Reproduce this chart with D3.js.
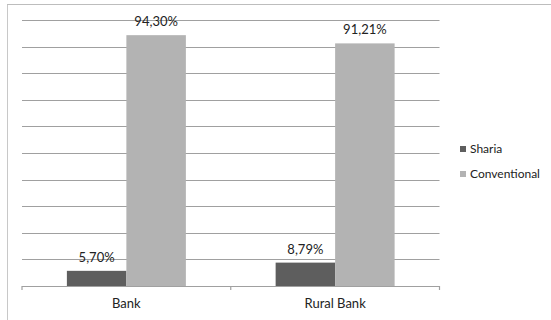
<!DOCTYPE html>
<html><head><meta charset="utf-8">
<script src="https://cdn.jsdelivr.net/npm/d3@7"></script>
<style>body{margin:0;background:#fff}svg{display:block}text{font-family:Lato,"Open Sans",sans-serif;fill:#222}</style>
</head><body><svg id="c" width="551" height="320"></svg>
<script>
const categories = ["Bank", "Rural Bank"];
const seriesNames = ["Sharia", "Conventional"];
const sharia = [5.70, 8.79];
const conventional = [94.30, 91.21];
const yTicks = [0,10,20,30,40,50,60,70,80,90,100];
const colors = ["#5e5e5e", "#b3b3b3"];

(function(){
const svg = d3.select("#c");
const pL = 22, pR = 439.5, pT = 20, pB = 286;
// frame
svg.append("line").attr("x1",7.5).attr("x2",7.5).attr("y1",4).attr("y2",320).attr("stroke","#c8c8c8");
svg.append("line").attr("x1",7).attr("x2",551).attr("y1",4.5).attr("y2",4.5).attr("stroke","#bdbdbd");

const x0 = d3.scaleBand().domain(categories).range([pL, pR]).paddingInner(0.43).paddingOuter(0.215);
const x1 = d3.scaleBand().domain(seriesNames).range([0, x0.bandwidth()]);
const y = d3.scaleLinear().domain([0,100]).range([pB, pT]);

svg.append("g").selectAll("line").data(yTicks.slice(1)).join("line")
  .attr("x1", pL).attr("x2", pR).attr("y1", d=>Math.round(y(d))+0.5).attr("y2", d=>Math.round(y(d))+0.5)
  .attr("stroke","#a0a0a0").attr("stroke-width",1.2);

const data = categories.map((c,i)=>({cat:c, vals:[sharia[i], conventional[i]]}));
const g = svg.append("g").selectAll("g").data(data).join("g").attr("transform", d=>`translate(${x0(d.cat)},0)`);
g.selectAll("rect").data(d=>d.vals.map((v,j)=>({v, s:seriesNames[j], j}))).join("rect")
  .attr("x", d=>x1(d.s)).attr("width", x1.bandwidth()).attr("y", d=>y(d.v)).attr("height", d=>pB - y(d.v))
  .attr("fill", d=>colors[d.j]);
g.selectAll("text").data(d=>d.vals.map((v,j)=>({v, s:seriesNames[j], j}))).join("text")
  .attr("x", d=>x1(d.s)+x1.bandwidth()/2).attr("y", d=>y(d.v)-9)
  .attr("text-anchor","middle").attr("font-size",13)
  .text(d=>d.v.toFixed(2).replace(".", ",")+"%");

// x axis
const axis = svg.append("g");
axis.append("line").attr("x1",pL).attr("x2",pR).attr("y1",pB+0.5).attr("y2",pB+0.5).attr("stroke","#a0a0a0").attr("stroke-width",1.2);
const step = (pR-pL)/categories.length;
axis.selectAll("line.t").data(d3.range(categories.length+1)).join("line").attr("class","t")
  .attr("x1", i=>pL+i*step).attr("x2", i=>pL+i*step).attr("y1", pB).attr("y2", pB+4)
  .attr("stroke","#a0a0a0").attr("stroke-width",1.2);
axis.selectAll("text").data(categories).join("text")
  .attr("x", d=>x0(d)+x0.bandwidth()/2).attr("y", 308).attr("text-anchor","middle").attr("font-size",13).text(d=>d);

// legend
const lg = svg.append("g").selectAll("g").data(seriesNames).join("g").attr("transform",(d,i)=>`translate(460,${146+i*25})`);
lg.append("rect").attr("width",6).attr("height",6).attr("fill",(d,i)=>colors[i]);
lg.append("text").attr("x",10).attr("y",6.5).attr("font-size",12).text(d=>d);
})();
</script></body></html>
